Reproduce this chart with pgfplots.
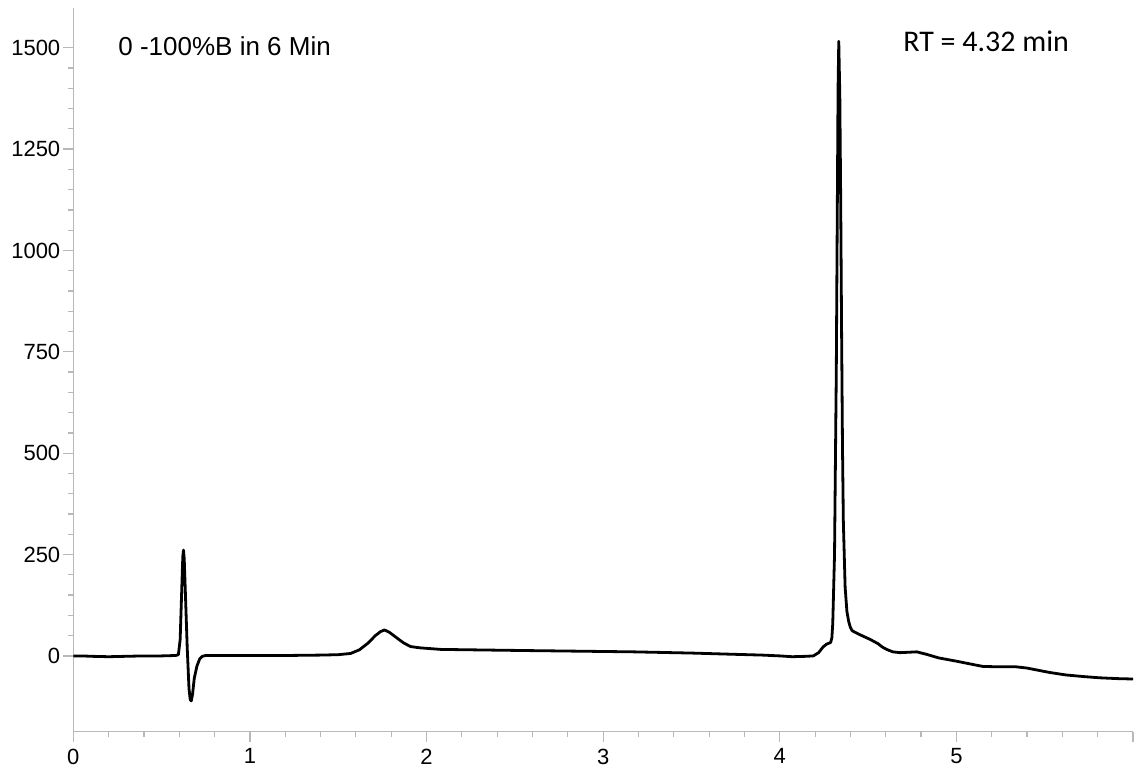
\documentclass[border=0pt]{standalone}
\usepackage{pgfplots}
\pgfplotsset{compat=1.18}
\usepackage{fontspec}
\setmainfont{Liberation Sans}
\newfontfamily\rtfont{Carlito}
\usetikzlibrary{calc}
\begin{document}
\begin{tikzpicture}
\begin{axis}[
 name=ax,
 scale only axis,
 width=529.85pt, height=361.85pt,
 xmin=0, xmax=6, ymin=-187, ymax=1598,
 axis x line=bottom, axis y line=left,
 axis line style={-, draw=black!28, line width=0.75pt},
 xtick={0,1,2,3,4,5,6}, xticklabels={0,1,2,3,4,5,{}},
 ytick={0,250,500,750,1000,1250,1500},
 minor x tick num=4, minor y tick num=4,
 tick align=outside,
 major tick length=5pt, minor tick length=2.5pt,
 every tick/.style={draw=black!28, line width=0.6pt},
 tick label style={font=\fontsize{11}{13}\selectfont, text=black},
 yticklabel style={xshift=2pt},
 /pgf/number format/assume math mode=true,
 /pgf/number format/1000 sep={},
 clip=false,
]
\addplot[black, line width=1.4pt, line join=round, no markers] coordinates {
(0.00,0) (0.05,0) (0.10,-1) (0.20,-2) (0.30,-1) (0.40,0) (0.50,0) (0.58,1)
(0.595,3) (0.605,40) (0.613,150) (0.620,245) (0.624,261) (0.628,240) (0.635,150)
(0.645,20) (0.655,-80) (0.662,-108) (0.668,-111) (0.675,-95) (0.685,-55) (0.700,-25)
(0.715,-8) (0.730,-1) (0.75,1) (0.80,1) (1.00,1) (1.20,1) (1.40,2) (1.50,3)
(1.57,6) (1.62,15) (1.67,32) (1.71,50) (1.74,60) (1.762,64) (1.79,58) (1.83,45)
(1.87,32) (1.91,23) (1.96,20) (2.08,16) (2.42,14) (2.6,13) (3.17,10) (3.5,7)
(3.735,4) (3.9,2) (4.0,0) (4.07,-2) (4.15,-1) (4.19,0) (4.22,8) (4.245,22)
(4.265,29) (4.288,33) (4.295,45) (4.30,80) (4.31,250) (4.32,700) (4.325,1050)
(4.33,1400) (4.334,1516) (4.34,1380) (4.345,1120) (4.35,800) (4.355,520)
(4.36,330) (4.37,170) (4.38,110) (4.39,85) (4.40,70) (4.41,62) (4.45,53)
(4.51,41) (4.557,30) (4.58,22) (4.605,16) (4.64,10) (4.68,8) (4.73,9) (4.775,10)
(4.83,4) (4.9,-5) (5.0,-13) (5.08,-20) (5.15,-26) (5.25,-27) (5.34,-27)
(5.40,-30) (5.47,-36) (5.53,-41) (5.62,-47) (5.72,-51) (5.81,-54) (5.91,-56) (6.0,-57)
};
\node[anchor=west, inner sep=0pt, font=\fontsize{13}{15}\selectfont] at (axis cs:0.253,1505) {0 -100\%B in 6 Min};
\node[anchor=west, inner sep=0pt, font=\rtfont\fontsize{15}{18}\selectfont] at (axis cs:4.697,1516) {RT = 4.32 min};
\end{axis}
\pgfresetboundingbox
\path[use as bounding box] ($(ax.south west)+(-36.65pt,-20.15pt)$) rectangle ($(ax.north east)+(1pt,4pt)$);
\end{tikzpicture}
\end{document}
